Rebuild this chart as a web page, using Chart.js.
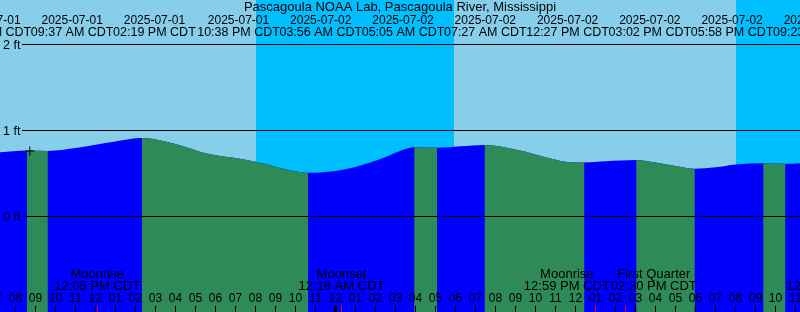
<!DOCTYPE html>
<html>
<head>
<meta charset="utf-8">
<script src="https://cdn.jsdelivr.net/npm/chart.js@4.4.0/dist/chart.umd.min.js"></script>
<style>
  html, body { margin: 0; padding: 0; background: #87ceeb; }
  #box { width: 800px; height: 312px; position: relative; }
</style>
</head>
<body>
<div id="box"><canvas id="tideCanvas"></canvas></div>
<script>
const title = "Pascagoula NOAA Lab, Pascagoula River, Mississippi";
const year = "2025";

// high / low tides (CDT)
const tideTimes = ["07-01 08:34", "07-01 09:37", "07-01 14:19", "07-01 22:38", "07-02 03:56", "07-02 05:05",
                   "07-02 07:27", "07-02 12:27", "07-02 15:02", "07-02 17:58", "07-02 21:23", "07-02 22:30"];
const tideFeet  = [0.763, 0.757, 0.907, 0.502, 0.799, 0.793, 0.826, 0.622, 0.651, 0.549, 0.614, 0.607];

// heights read between the turning points
const sampleTimes = ["07-01 07:00", "07-01 11:00", "07-01 12:00", "07-01 13:00", "07-01 15:30", "07-01 16:30",
                     "07-01 17:30", "07-01 18:30", "07-01 19:30", "07-01 20:30", "07-01 21:30", "07-01 23:30",
                     "07-02 00:30", "07-02 01:30", "07-02 02:30", "07-02 03:15", "07-02 06:15", "07-02 08:30",
                     "07-02 09:30", "07-02 10:30", "07-02 11:30", "07-02 13:30", "07-02 16:00", "07-02 17:00",
                     "07-02 19:00", "07-02 20:00", "07-02 23:30"];
const sampleFeet  = [0.737, 0.790, 0.829, 0.867, 0.867, 0.802,
                     0.729, 0.688, 0.655, 0.605, 0.543, 0.512,
                     0.544, 0.605, 0.686, 0.758, 0.810, 0.797,
                     0.747, 0.683, 0.631, 0.636, 0.622, 0.581,
                     0.566, 0.599, 0.619];

const moonTimes = ["07-01 12:05", "07-02 00:18", "07-02 12:59", "07-02 14:30", "07-03 00:41"];
const moonNames = ["Moonrise", "Moonset", "Moonrise", "First Quarter", "Moonset"];

const sunsetTimes  = ["07-01 20:01", "07-02 20:01"];
const sunriseTimes = ["07-02 05:56", "07-03 05:56"];

const nowTime = "07-01 08:43";
const nowFeet = 0.756;

const feetTicks = [0, 1, 2];

const DAY = "#87CEEB", NIGHT = "#00BFFF", FLOOD = "#0000FF", EBB = "#2E8B57";
const FONT = "Liberation Sans";

window.onload = function(){
    drawChart(document.getElementById("tideCanvas"));
}

function hours(s){
    let [md, hm] = s.split(" ");
    let day = parseInt(md.split("-")[1]);
    let [h, m] = hm.split(":").map(Number);
    return (day - 1) * 24 + h + m / 60;
}

function two(n){ return (n < 10 ? "0" : "") + n; }

function clock(s){
    let [h, m] = s.split(" ")[1].split(":").map(Number);
    let h12 = h % 12 === 0 ? 12 : h % 12;
    return two(h12) + ":" + two(m) + " " + (h < 12 ? "AM" : "PM") + " CDT";
}

// push overlapping labels apart, keeping each group centred on its events
function pack(centers, widths){
    let groups = centers.map((c, i) => ({from: i, to: i, center: c}));
    let width = g => { let w = 0; for(let k = g.from; k <= g.to; k++) w += widths[k]; return w; };
    let changed = true;
    while(changed){
        changed = false;
        for(let i = 0; i < groups.length - 1; i++){
            let a = groups[i], b = groups[i + 1];
            if(a.center + width(a) / 2 > b.center - width(b) / 2){
                let sum = 0;
                for(let k = a.from; k <= b.to; k++) sum += centers[k];
                groups.splice(i, 2, {from: a.from, to: b.to, center: sum / (b.to - a.from + 1)});
                changed = true;
                break;
            }
        }
    }
    let pos = [];
    for(let g of groups){
        let x = g.center - width(g) / 2;
        for(let k = g.from; k <= g.to; k++){ pos[k] = x + widths[k] / 2; x += widths[k]; }
    }
    return pos;
}

const decorations = {
    id: "decorations",
    beforeDatasetsDraw(chart){
        let {ctx, chartArea: a, scales: {x}} = chart;
        ctx.save();
        ctx.fillStyle = DAY;
        ctx.fillRect(a.left, a.top, a.width, a.height);
        ctx.fillStyle = NIGHT;
        for(let i = 0; i < sunsetTimes.length; i++){
            let x0 = Math.round(x.getPixelForValue(hours(sunsetTimes[i])));
            let x1 = Math.round(x.getPixelForValue(hours(sunriseTimes[i])));
            ctx.fillRect(x0, a.top, x1 - x0, a.height);
        }
        ctx.restore();
    },
    afterDatasetsDraw(chart){
        let {ctx, chartArea: a, scales: {x, y}} = chart;
        ctx.save();
        ctx.fillStyle = "#000";
        ctx.strokeStyle = "#000";

        // level lines
        ctx.font = "12.5px '" + FONT + "'";
        ctx.textAlign = "left";
        ctx.textBaseline = "alphabetic";
        for(let v of feetTicks){
            let py = Math.floor(y.getPixelForValue(v)) + 0.5;
            ctx.lineWidth = 1;
            ctx.beginPath();
            ctx.moveTo(22, py);
            ctx.lineTo(a.right, py);
            ctx.stroke();
            ctx.fillText(v + " ft", 3, py + 4);
        }

        // hour ticks
        ctx.font = "12px '" + FONT + "'";
        ctx.textAlign = "center";
        for(let h = Math.floor(x.min); h <= Math.ceil(x.max); h++){
            let px = Math.floor(x.getPixelForValue(h)) + 0.5;
            ctx.lineWidth = h % 24 === 0 ? 3 : 1;
            ctx.beginPath();
            ctx.moveTo(px, 306);
            ctx.lineTo(px, a.bottom);
            ctx.stroke();
            let h12 = h % 12 === 0 ? 12 : h % 12;
            ctx.fillText(two(h12), px, 302);
        }

        // moon events
        ctx.strokeStyle = "#FF0000";
        ctx.lineWidth = 1;
        for(let t of moonTimes){
            let px = Math.floor(x.getPixelForValue(hours(t))) + 0.5;
            ctx.beginPath();
            ctx.moveTo(px, 306);
            ctx.lineTo(px, a.bottom);
            ctx.stroke();
        }
        ctx.font = "13px '" + FONT + "'";
        let moonCenters = moonTimes.map(t => x.getPixelForValue(hours(t)));
        let moonWidths = moonTimes.map((t, i) => Math.max(ctx.measureText(moonNames[i]).width, ctx.measureText(clock(t)).width) + 1);
        let moonPos = pack(moonCenters, moonWidths);
        moonTimes.forEach((t, i) => {
            ctx.fillText(moonNames[i], moonPos[i], 278);
            ctx.fillText(clock(t), moonPos[i], 290);
        });

        // tide event labels along the top
        ctx.font = "12.5px '" + FONT + "'";
        let tideCenters = tideTimes.map(t => x.getPixelForValue(hours(t)));
        let tideWidths = tideTimes.map(t => ctx.measureText(clock(t)).width - 0.4);
        let tidePos = pack(tideCenters, tideWidths);
        tideTimes.forEach((t, i) => {
            ctx.font = "12.5px '" + FONT + "'";
            ctx.fillText(clock(t), tidePos[i], 36);
            ctx.font = "12px '" + FONT + "'";
            ctx.fillText(year + "-" + t.split(" ")[0], tidePos[i], 24);
        });

        ctx.font = "13px '" + FONT + "'";
        ctx.fillText(title, (a.left + a.right) / 2, 11);
        ctx.restore();
    }
};

function drawChart(canvas){
    let points = tideTimes.map((t, i) => ({x: hours(t), y: tideFeet[i]}))
        .concat(sampleTimes.map((t, i) => ({x: hours(t), y: sampleFeet[i]})))
        .sort((p, q) => p.x - q.x);

    let rising = c => c.p1.parsed.y >= c.p0.parsed.y;

    Chart.defaults.font.family = FONT;
    new Chart(canvas, {
        type: "line",
        data: {
            datasets: [{
                // current time marker
                data: [{x: hours(nowTime), y: nowFeet}],
                showLine: false,
                pointStyle: "cross",
                pointRadius: 4.5,
                borderColor: "#000",
                borderWidth: 1
            }, {
                // ebb (falling) stretches, painted over the flood fill
                data: points,
                fill: "start",
                borderWidth: 0,
                borderColor: "rgba(0,0,0,0)",
                backgroundColor: EBB,
                pointRadius: 0,
                cubicInterpolationMode: "monotone",
                segment: {
                    backgroundColor: c => rising(c) ? "rgba(0,0,0,0)" : EBB
                }
            }, {
                // flood fill under the whole curve
                data: points,
                fill: "start",
                borderWidth: 0,
                borderColor: "rgba(0,0,0,0)",
                backgroundColor: FLOOD,
                pointRadius: 0,
                cubicInterpolationMode: "monotone"
            }]
        },
        options: {
            responsive: true,
            maintainAspectRatio: false,
            animation: false,
            events: [],
            layout: {padding: 0, autoPadding: false},
            scales: {
                x: {type: "linear", display: false, min: 7.225, max: 47.225},
                y: {display: false, min: -1.116, max: 2.512}
            },
            plugins: {
                legend: {display: false},
                tooltip: {enabled: false}
            }
        },
        plugins: [decorations]
    });
}
</script>
</body>
</html>
